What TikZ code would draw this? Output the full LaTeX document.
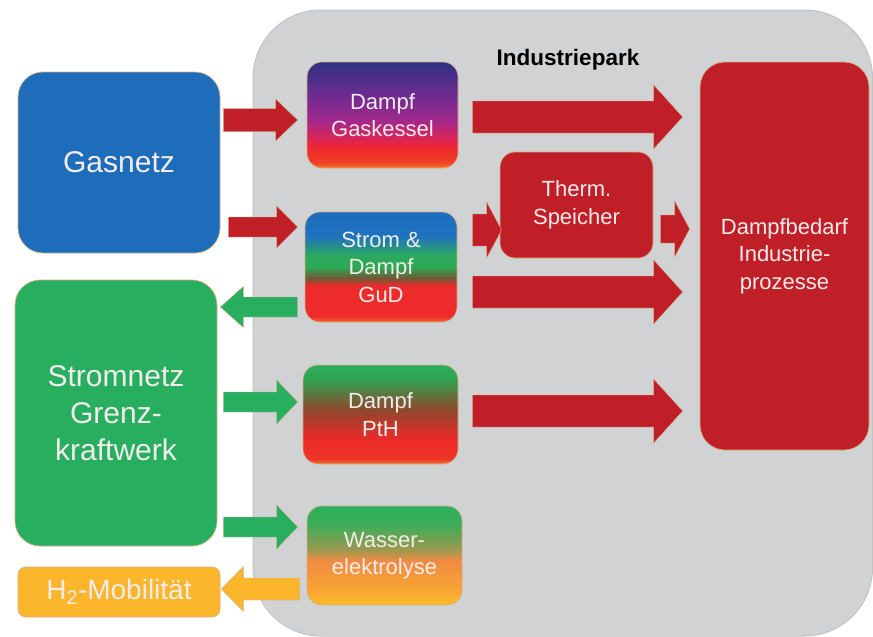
\documentclass[tikz,border=0pt]{standalone}
\usepackage{fontspec}
\setmainfont{Liberation Sans}
\usetikzlibrary{calc}
\definecolor{gasblue}{HTML}{1D6DBA}
\definecolor{netgreen}{HTML}{27AE5F}
\definecolor{h2orange}{HTML}{FBB62B}
\definecolor{boxred}{HTML}{C11F27}
\definecolor{parkgray}{HTML}{D1D2D4}
\definecolor{parkedge}{HTML}{C2C3C5}
\definecolor{edgetan}{HTML}{D2B088}
\definecolor{txt}{HTML}{F3ECEC}
% Gaskessel
\definecolor{k1}{HTML}{2E3183}\definecolor{k2}{HTML}{6B2C91}\definecolor{k3}{HTML}{A1288C}
\definecolor{k4}{HTML}{DA2458}\definecolor{k5}{HTML}{EE2A2A}\definecolor{k6}{HTML}{F0432A}\definecolor{k7}{HTML}{F47B20}
% GuD
\definecolor{g1}{HTML}{1D6DC1}\definecolor{g2}{HTML}{1F72BE}\definecolor{g3}{HTML}{2CAA5C}
\definecolor{g4}{HTML}{2DAA55}\definecolor{g5}{HTML}{6E5A35}\definecolor{g6}{HTML}{EC2B2B}\definecolor{g7}{HTML}{EE2B2B}\definecolor{g8}{HTML}{F26B27}
% PtH
\definecolor{p1}{HTML}{2BB05B}\definecolor{p2}{HTML}{30A050}\definecolor{p3}{HTML}{8E482C}
\definecolor{p4}{HTML}{EC2A2A}\definecolor{p5}{HTML}{EE3528}\definecolor{p6}{HTML}{F27A2A}
% Wasser
\definecolor{w1}{HTML}{2AB05C}\definecolor{w2}{HTML}{40AC58}\definecolor{w3}{HTML}{A0984E}
\definecolor{w4}{HTML}{F18B43}\definecolor{w5}{HTML}{F7A035}\definecolor{w6}{HTML}{FDBB2A}
\pgfdeclareverticalshading{kesselshade}{100bp}{color(0bp)=(k7); color(25bp)=(k7); color(27.5bp)=(k6); color(34bp)=(k5); color(39bp)=(k4); color(47.5bp)=(k3); color(60bp)=(k2); color(75bp)=(k1); color(100bp)=(k1)}
\pgfdeclareverticalshading{gudshade}{100bp}{color(0bp)=(g8); color(25bp)=(g8); color(27.5bp)=(g7); color(41.5bp)=(g6); color(45bp)=(g5); color(50bp)=(g4); color(55bp)=(g3); color(64bp)=(g2); color(75bp)=(g1); color(100bp)=(g1)}
\pgfdeclareverticalshading{pthshade}{100bp}{color(0bp)=(p6); color(25bp)=(p6); color(27.5bp)=(p5); color(37.5bp)=(p4); color(52.5bp)=(p3); color(67.5bp)=(p2); color(75bp)=(p1); color(100bp)=(p1)}
\pgfdeclareverticalshading{wassershade}{100bp}{color(0bp)=(w6); color(25bp)=(w6); color(35bp)=(w5); color(47.5bp)=(w4); color(52.5bp)=(w3); color(65bp)=(w2); color(75bp)=(w1); color(100bp)=(w1)}
\newcommand\blockarrow[6]{%
  \filldraw[#1] let \p1=(#2), \p2=(#3), \n1={sign(\x2-\x1)} in
    (\x1,\y1-#4) -- (\x2-\n1*#6,\y1-#4) -- (\x2-\n1*#6,\y1-#5) -- (\x2,\y1)
    -- (\x2-\n1*#6,\y1+#5) -- (\x2-\n1*#6,\y1+#4) -- (\x1,\y1+#4) -- cycle;}
\tikzset{
  mybox/.style={draw=edgetan, line width=0.7pt, inner sep=0pt, text=txt, align=center},
  bigfont/.style={font=\fontsize{30}{37}\selectfont},
  smallfont/.style={font=\fontsize{22}{27.5}\selectfont},
  redarrow/.style={fill=boxred, draw=edgetan, line width=0.4pt},
  greenarrow/.style={fill=netgreen, draw=edgetan, line width=0.4pt},
  orangearrow/.style={fill=h2orange, draw=edgetan, line width=0.4pt},
}
\begin{document}
\begin{tikzpicture}[x=1pt,y=-1pt]
\useasboundingbox (0,0) rectangle (873,637);
\fill[white] (0,0) rectangle (873,637);
\filldraw[fill=parkgray, draw=parkedge, line width=1pt, rounded corners=68pt] (253,10) rectangle (872.5,636);
\node[font=\bfseries\fontsize{22.5}{26}\selectfont, text=black] (park) at (568,60) {Industriepark};
% left boxes
\node[mybox, bigfont, fill=gasblue, minimum width=202pt, minimum height=181pt, rounded corners=25pt] (gas) at (119,162.5) {Gasnetz};
\node[mybox, bigfont, fill=netgreen, minimum width=202pt, minimum height=266pt, rounded corners=25pt] (strom) at (116,413) {Stromnetz\\Grenz-\\kraftwerk};
\node[mybox, font=\fontsize{28}{32}\selectfont, fill=h2orange, minimum width=202pt, minimum height=50pt, rounded corners=8pt] (h2) at (119,592) {H\textsubscript{2}-Mobilität};
% middle boxes
\node[mybox, smallfont, shade, shading=kesselshade, minimum width=151pt, minimum height=106pt, rounded corners=15pt] (kessel) at (382.5,115) {Dampf\\Gaskessel};
\node[mybox, smallfont, shade, shading=gudshade, minimum width=152pt, minimum height=110pt, rounded corners=15pt] (gud) at (381,267) {Strom \&\\Dampf\\GuD};
\node[mybox, smallfont, shade, shading=pthshade, minimum width=155pt, minimum height=99pt, rounded corners=15pt] (pth) at (380.5,414.5) {Dampf\\PtH};
\node[mybox, smallfont, shade, shading=wassershade, minimum width=155pt, minimum height=99pt, rounded corners=15pt] (wasser) at (384.5,555.5) {Wasser-\\elektrolyse};
\node[mybox, smallfont, fill=boxred, minimum width=153pt, minimum height=106pt, rounded corners=15pt] (therm) at (576.5,205) {Therm.\\Speicher};
\node[mybox, smallfont, fill=boxred, minimum width=169pt, minimum height=388pt, rounded corners=25pt] (bedarf) at (784.5,256) {Dampfbedarf\\Industrie-\\prozesse};
% arrows
\blockarrow{redarrow}{$(gas.east |- kessel.west)+(3,5)$}{$(kessel.west)+(-9,5)$}{11.5pt}{21pt}{22pt}
\blockarrow{redarrow}{$(gas.east |- gud.west)+(8,-40)$}{$(gud.west)+(-7,-40)$}{10pt}{21pt}{21pt}
\blockarrow{greenarrow}{$(gud.west)+(-7,40)$}{$(strom.east |- gud.west)+(3,40)$}{10pt}{20.5pt}{23pt}
\blockarrow{greenarrow}{$(strom.east |- pth.west)+(6,-12.5)$}{$(pth.west)+(-5,-12.5)$}{10pt}{22pt}{21pt}
\blockarrow{greenarrow}{$(strom.east |- wasser.west)+(6,-28.5)$}{$(wasser.west)+(-9,-28.5)$}{10pt}{22pt}{21pt}
\blockarrow{orangearrow}{$(wasser.west)+(-7,33.5)$}{$(h2.east |- wasser.west)+(1,33.5)$}{11pt}{22.5pt}{22pt}
\blockarrow{redarrow}{$(kessel.east)+(14,2)$}{$(bedarf.west |- kessel.east)+(-17,2)$}{16pt}{32pt}{29pt}
\blockarrow{redarrow}{$(gud.east)+(15,25)$}{$(bedarf.west |- gud.east)+(-17,25)$}{16pt}{32pt}{29pt}
\blockarrow{redarrow}{$(pth.east)+(14,-3.5)$}{$(bedarf.west |- pth.east)+(-17,-3.5)$}{16pt}{32pt}{29pt}
\blockarrow{redarrow}{$(gud.east)+(15,-37)$}{$(therm.west |- gud.east)+(2,-37)$}{16pt}{28pt}{15pt}
\blockarrow{redarrow}{$(therm.east)+(7,24)$}{$(bedarf.west |- therm.east)+(-10,24)$}{14pt}{28pt}{15pt}
\end{tikzpicture}
\end{document}
